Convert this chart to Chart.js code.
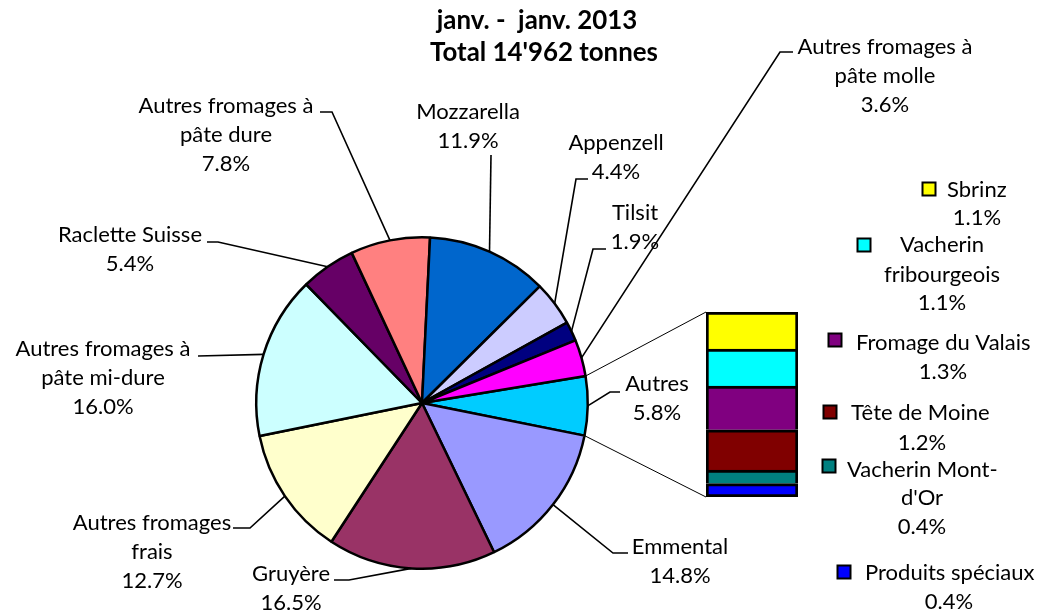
<!DOCTYPE html>
<html><head><meta charset="utf-8">
<script src="https://cdn.jsdelivr.net/npm/chart.js@4.4.1/dist/chart.umd.min.js"></script>
<style>
html,body{margin:0;padding:0;background:#fff;}
#wrap{position:relative;width:1040px;height:610px;overflow:hidden;}
canvas{position:absolute;left:0;top:0;}
</style>
</head><body>
<div id="wrap"><canvas id="pie" width="1040" height="610"></canvas><canvas id="bar" width="1040" height="610"></canvas></div>
<script>
// ---------- data ----------
const titleLines = ['janv. -  janv. 2013', "Total 14'962 tonnes"];
const categories = ['Autres','Emmental','Gruyère','Autres fromages frais','Autres fromages à pâte mi-dure','Raclette Suisse','Autres fromages à pâte dure','Mozzarella','Appenzell','Tilsit','Autres fromages à pâte molle'];
const shares = [5.8, 14.8, 16.5, 12.7, 16.0, 5.4, 7.8, 11.9, 4.4, 1.9, 3.6];
const pieColors = ['#00CCFF','#9999FF','#993366','#FFFFCC','#CCFFFF','#660066','#FF8080','#0066CC','#CCCCFF','#000080','#FF00FF'];
const otherCategories = ['Sbrinz','Vacherin fribourgeois','Fromage du Valais','Tête de Moine',"Vacherin Mont-d'Or",'Produits spéciaux'];
const otherShares = [1.1, 1.1, 1.3, 1.2, 0.4, 0.4];
const otherColors = ['#FFFF00','#00FFFF','#800080','#800000','#008080','#0000FF'];

// ---------- label layout (text placement only) ----------
const pieLabelLayout = [
  {lines:['Autres'], x:657, y:384, leader:[[620,392],[610,392]]},
  {lines:['Emmental'], x:680, y:547, leader:[[628,553],[613,553]]},
  {lines:['Gruyère'], x:291, y:574, leader:[[334,580],[349,580]]},
  {lines:['Autres fromages','frais'], x:152, y:523, leader:[[233,528],[250,528]]},
  {lines:['Autres fromages à','pâte mi-dure'], x:103, y:349, leader:[[198,356]]},
  {lines:['Raclette Suisse'], x:130, y:235, leader:[[207,242],[218,242]]},
  {lines:['Autres fromages à','pâte dure'], x:226, y:106, leader:[[320,112],[332,112]]},
  {lines:['Mozzarella'], x:468, y:112, leader:[[491,155]]},
  {lines:['Appenzell'], x:616, y:143, leader:[[588,179],[576,179]]},
  {lines:['Tilsit'], x:635, y:213, leader:[[606,249],[593,249]]},
  {lines:['Autres fromages à','pâte molle'], x:885, y:47, leader:[[793,52],[780,52]]}
];
const otherLabelLayout = [
  {marker:[929,189], lines:[['Sbrinz',947,190,'left'],['%',977,218,'center']]},
  {marker:[864,245], lines:[['Vacherin',942,245,'center'],['fribourgeois',942,275,'center'],['%',942,303,'center']]},
  {marker:[835,340], lines:[['Fromage du Valais',856,343,'left'],['%',943,372,'center']]},
  {marker:[830,412], lines:[['Tête de Moine',851,413,'left'],['%',922,443,'center']]},
  {marker:[829,466], lines:[['Vacherin Mont-',847,470,'left'],["d'Or",922,498,'center'],['%',922,527,'center']]},
  {marker:[844,572], lines:[['Produits spéciaux',865,573,'left'],['%',949,602,'center']]}
];
const LINE_H = 29;
const pct = v => v.toFixed(1) + '%';

// ---------- font sizing ----------
const FONT = 'Lato';
const mctx = document.createElement('canvas').getContext('2d');
mctx.font = '100px ' + FONT;
const FS = 100 * 175 / mctx.measureText('Autres fromages à').width;
mctx.font = 'bold 100px ' + FONT;
const TFS = 100 * 228 / mctx.measureText("Total 14'962 tonnes").width;

const sumShares = shares.reduce((a,b)=>a+b,0);
const rotation = 91 - (shares[0] / sumShares * 360) / 2;

// ---------- pie ----------
const pieLabels = {
  id:'pieLabels',
  afterDraw(chart){
    const ctx = chart.ctx;
    const meta = chart.getDatasetMeta(0);
    ctx.save();
    // title
    ctx.fillStyle = '#000';
    ctx.textAlign = 'center';
    ctx.textBaseline = 'middle';
    ctx.font = 'bold ' + TFS.toFixed(2) + 'px ' + FONT;
    ctx.fillText(titleLines[0], 537, 21);
    ctx.fillText(titleLines[1], 544, 53);
    // labels + leaders
    ctx.font = FS.toFixed(2) + 'px ' + FONT;
    meta.data.forEach((arc, i) => {
      const L = pieLabelLayout[i];
      const mid = (arc.startAngle + arc.endAngle) / 2;
      const ex = arc.x + Math.cos(mid) * arc.outerRadius;
      const ey = arc.y + Math.sin(mid) * arc.outerRadius;
      ctx.beginPath();
      ctx.strokeStyle = '#000';
      ctx.lineWidth = 1.6;
      L.leader.forEach((p, k) => { if (k === 0) ctx.moveTo(p[0], p[1]); else ctx.lineTo(p[0], p[1]); });
      ctx.lineTo(ex, ey);
      ctx.stroke();
      const lines = L.lines.concat([pct(shares[i])]);
      lines.forEach((t, k) => ctx.fillText(t, L.x, L.y + k * LINE_H));
    });
    ctx.restore();
  }
};

const pieChart = new Chart(document.getElementById('pie'), {
  type:'pie',
  data:{ labels:categories, datasets:[{ data:shares, backgroundColor:pieColors, borderColor:'#000', borderWidth:2.5 }] },
  options:{
    responsive:false, animation:false, rotation:rotation,
    layout:{ padding:{ left:255, top:236, right:451, bottom:40 } },
    plugins:{ legend:{display:false}, tooltip:{enabled:false}, title:{display:false} }
  },
  plugins:[pieLabels]
});

// ---------- bar of pie ----------
const revIdx = otherCategories.map((_, i) => otherCategories.length - 1 - i);
const barDecor = {
  id:'barDecor',
  afterDraw(chart){
    const ctx = chart.ctx;
    ctx.save();
    // connectors from the "Autres" slice to the bar
    const arc = pieChart.getDatasetMeta(0).data[0];
    const topEl = chart.getDatasetMeta(chart.data.datasets.length - 1).data[0];
    const botEl = chart.getDatasetMeta(0).data[0];
    const bx = topEl.x - topEl.width / 2;
    ctx.strokeStyle = '#000';
    ctx.lineWidth = 1;
    ctx.beginPath();
    ctx.moveTo(arc.x + Math.cos(arc.startAngle) * arc.outerRadius, arc.y + Math.sin(arc.startAngle) * arc.outerRadius);
    ctx.lineTo(bx, topEl.y);
    ctx.moveTo(arc.x + Math.cos(arc.endAngle) * arc.outerRadius, arc.y + Math.sin(arc.endAngle) * arc.outerRadius);
    ctx.lineTo(bx, botEl.base);
    ctx.stroke();
    // data labels with legend keys
    ctx.font = FS.toFixed(2) + 'px ' + FONT;
    ctx.textBaseline = 'middle';
    ctx.fillStyle = '#000';
    otherLabelLayout.forEach((L, i) => {
      const s = 13;
      ctx.fillStyle = otherColors[i];
      ctx.fillRect(L.marker[0] - s/2, L.marker[1] - s/2, s, s);
      ctx.lineWidth = 2;
      ctx.strokeRect(L.marker[0] - s/2, L.marker[1] - s/2, s, s);
      ctx.fillStyle = '#000';
      L.lines.forEach(([t, x, y, al]) => {
        ctx.textAlign = al;
        ctx.fillText(t === '%' ? pct(otherShares[i]) : t, x, y);
      });
    });
    ctx.restore();
  }
};

new Chart(document.getElementById('bar'), {
  type:'bar',
  data:{
    labels:['Autres'],
    datasets: revIdx.map((i, k) => ({
      label: otherCategories[i],
      data: [otherShares[i]],
      backgroundColor: otherColors[i],
      borderColor: '#000',
      borderSkipped: false,
      borderWidth: { top:3, left:3, right:3, bottom: k === 0 ? 3 : 0 },
      barPercentage: 1, categoryPercentage: 1
    }))
  },
  options:{
    responsive:false, animation:false,
    layout:{ padding:{ left:706, top:312, right:242, bottom:113 } },
    scales:{
      x:{ stacked:true, display:false },
      y:{ stacked:true, display:false, min:0, max: otherShares.reduce((a,b)=>a+b,0) }
    },
    plugins:{ legend:{display:false}, tooltip:{enabled:false}, title:{display:false} }
  },
  plugins:[barDecor]
});
</script>
</body></html>
